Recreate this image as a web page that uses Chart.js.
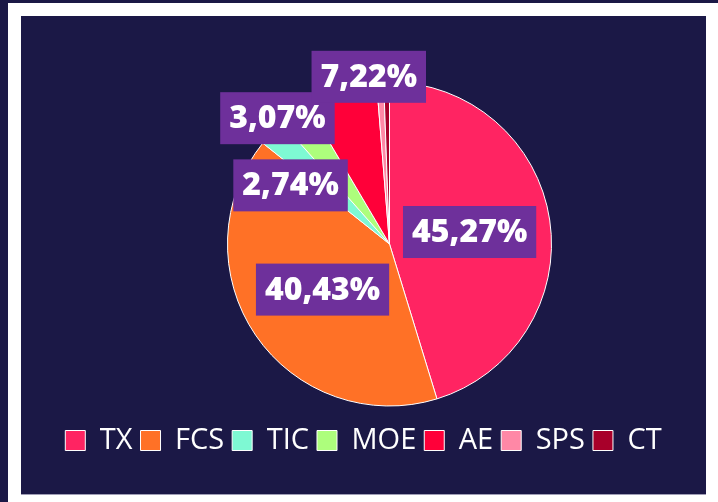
<!DOCTYPE html>
<html lang="es">
<head>
<meta charset="UTF-8">
<title>Distribución por área</title>
<script src="https://cdn.jsdelivr.net/npm/chart.js"></script>
<style>
    html, body {
        margin: 0;
        padding: 0;
    }
    body {
        width: 718px;
        height: 502px;
        background: #1b1846;
        position: relative;
        overflow: hidden;
    }
    .marco {
        position: absolute;
        left: 8px;
        top: 3px;
        right: 0;
        bottom: 0;
        background: #ffffff;
    }
    .panel {
        position: absolute;
        left: 13px;
        top: 13px;
        width: 685px;
        height: 478px;
        background: #1b1846;
        border-bottom: 1px solid #a09eb6;
    }
    canvas {
        display: block;
    }
</style>
</head>
<body>
<div class="marco">
    <div class="panel">
        <canvas id="grafico"></canvas>
    </div>
</div>
<script>
// Datos del gráfico
const categorias = ['TX', 'FCS', 'TIC', 'MOE', 'AE', 'SPS', 'CT']
const valores = [45.27, 40.43, 2.74, 3.07, 7.22, 0.70, 0.57]
const colores = ['#ff2462', '#ff7126', '#7ef9d3', '#adfe7c', '#ff0039', '#ff88a6', '#a8002a']

// Posición de las etiquetas: fracción del radio y giro en grados (null = sin etiqueta)
const etiquetaRadio = [0.5, 0.5, 0.71, 1.04, 1.04, null, null]
const etiquetaGiro = [0, 0, -12.8, -5.6, 10.5, 0, 0]

document.addEventListener('DOMContentLoaded', async () => {
    const ctx = document.getElementById('grafico')

    try {
        await document.fonts.load('800 32px "Open Sans"')
        await document.fonts.load('29px "Open Sans"')
    } catch (error) {
        console.log(error)
    }

    // Plugin para las etiquetas de porcentaje
    const etiquetas = {
        id: 'etiquetas',
        afterLayout(chart) {
            // La tarta está algo desplazada a la derecha respecto a la leyenda
            chart.chartArea.left += 26
            chart.chartArea.right += 26
        },
        afterDatasetsDraw(chart) {
            const c = chart.ctx
            const meta = chart.getDatasetMeta(0)
            const total = valores.reduce((a, b) => a + b, 0)

            c.save()
            c.font = '800 32px "Open Sans"'
            c.textAlign = 'center'
            c.textBaseline = 'middle'

            meta.data.forEach((arc, i) => {
                if (etiquetaRadio[i] === null) return
                const { x, y, startAngle, endAngle, outerRadius } = arc.getProps(['x', 'y', 'startAngle', 'endAngle', 'outerRadius'], true)
                const ang = (startAngle + endAngle) / 2 + etiquetaGiro[i] * Math.PI / 180
                const px = x + Math.cos(ang) * outerRadius * etiquetaRadio[i]
                const py = y + Math.sin(ang) * outerRadius * etiquetaRadio[i]
                const texto = `${(valores[i] / total * 100).toFixed(2).replace('.', ',')}%`
                const ancho = c.measureText(texto).width + 18
                const alto = 52

                c.fillStyle = '#6e309b'
                c.fillRect(px - ancho / 2, py - alto / 2, ancho, alto)
                c.fillStyle = '#ffffff'
                c.fillText(texto, px, py + 1)
            })
            c.restore()
        },
    }

    // eslint-disable-next-line no-new, no-undef
    new Chart(ctx, {
        type: 'pie',
        data: {
            labels: categorias,
            datasets: [
                {
                    data: valores,
                    backgroundColor: colores,
                    borderColor: '#ffffff',
                    borderWidth: 1,
                    radius: 162,
                },
            ],
        },
        options: {
            responsive: true,
            maintainAspectRatio: false,
            animation: false,
            layout: {
                padding: { top: 54, bottom: 29, left: 0, right: 0 },
            },
            plugins: {
                legend: {
                    position: 'bottom',
                    labels: {
                        color: '#ffffff',
                        boxWidth: 20,
                        boxHeight: 20,
                        padding: 8,
                        font: { family: 'Open Sans', size: 29 },
                    },
                },
                tooltip: { enabled: false },
            },
        },
        plugins: [etiquetas],
    })
})
</script>
</body>
</html>
